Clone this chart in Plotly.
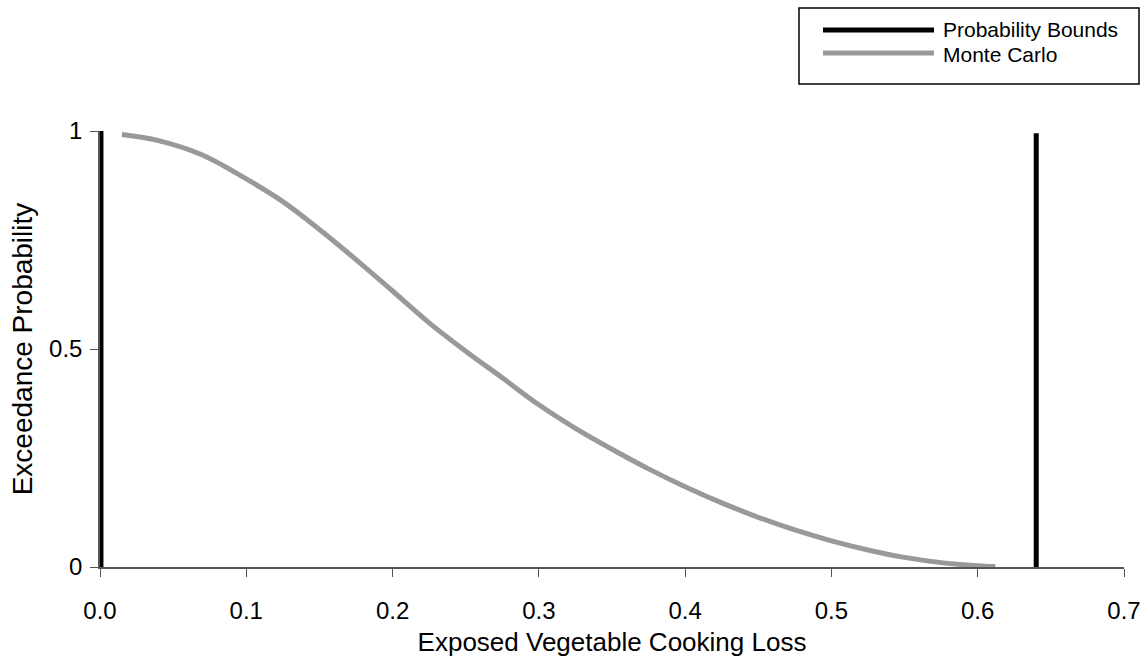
import plotly.graph_objects as go

# Monte Carlo exceedance curve
mc_x = [0.015, 0.040, 0.070, 0.100, 0.125, 0.150, 0.175, 0.200, 0.225, 0.250,
        0.275, 0.300, 0.325, 0.350, 0.375, 0.400, 0.425, 0.450, 0.475, 0.500,
        0.525, 0.550, 0.575, 0.600, 0.612]
mc_y = [0.992, 0.978, 0.945, 0.890, 0.838, 0.774, 0.705, 0.633, 0.560, 0.495,
        0.434, 0.372, 0.318, 0.270, 0.225, 0.184, 0.147, 0.114, 0.085, 0.060,
        0.039, 0.022, 0.010, 0.003, 0.001]

# Probability bounds (left and right vertical edges of the p-box)
left_bound_x = [0.001, 0.001]
left_bound_y = [0.0, 1.0]
right_bound_x = [0.640, 0.640]
right_bound_y = [0.0, 0.995]

x_ticks = [0.0, 0.1, 0.2, 0.3, 0.4, 0.5, 0.6, 0.7]
x_tick_labels = ["0.0", "0.1", "0.2", "0.3", "0.4", "0.5", "0.6", "0.7"]
y_ticks = [0, 0.5, 1]
y_tick_labels = ["0", "0.5", "1"]

legend_names = ["Probability Bounds", "Monte Carlo"]

W, H = 1147, 660
L, R, T, B = 100, 23, 131, 93
FONT = "Liberation Sans, Arial, sans-serif"
BOUND_COLOR = "#000000"
MC_COLOR = "#999999"

fig = go.Figure()
fig.add_trace(go.Scatter(x=mc_x, y=mc_y, mode="lines", line=dict(color=MC_COLOR, width=5, shape="spline"),
                         name=legend_names[1], showlegend=False))
fig.add_trace(go.Scatter(x=left_bound_x, y=left_bound_y, mode="lines", line=dict(color=BOUND_COLOR, width=4),
                         name=legend_names[0], showlegend=False))
fig.add_trace(go.Scatter(x=right_bound_x, y=right_bound_y, mode="lines", line=dict(color=BOUND_COLOR, width=5),
                         name=legend_names[0], showlegend=False))


def px_x(px):
    return (px - L) / (W - L - R)


def px_y(py):
    return (H - B - py) / (H - T - B)


# Boxed legend with long line samples
shapes = [
    dict(type="rect", xref="paper", yref="paper", x0=px_x(799), x1=px_x(1139), y0=px_y(84), y1=px_y(8),
         line=dict(color="#000000", width=1.5), fillcolor="white"),
    dict(type="line", xref="paper", yref="paper", x0=px_x(823), x1=px_x(934), y0=px_y(30), y1=px_y(30),
         line=dict(color=BOUND_COLOR, width=5)),
    dict(type="line", xref="paper", yref="paper", x0=px_x(823), x1=px_x(934), y0=px_y(53), y1=px_y(53),
         line=dict(color=MC_COLOR, width=5)),
]
annotations = [
    dict(text=legend_names[0], xref="paper", yref="paper", x=px_x(941), y=px_y(30), xanchor="left",
         yanchor="middle", showarrow=False, font=dict(family=FONT, size=21, color="#000")),
    dict(text=legend_names[1], xref="paper", yref="paper", x=px_x(941), y=px_y(55), xanchor="left",
         yanchor="middle", showarrow=False, font=dict(family=FONT, size=21, color="#000")),
]

fig.update_layout(
    width=W, height=H,
    margin=dict(l=L, r=R, t=T, b=B),
    plot_bgcolor="white", paper_bgcolor="white",
    font=dict(family=FONT, size=24, color="#000"),
    shapes=shapes, annotations=annotations,
    xaxis=dict(range=[0, 0.7], tickvals=x_ticks, ticktext=x_tick_labels, showgrid=False, zeroline=False,
               showline=True, linecolor="#555", linewidth=1.5, ticks="outside", ticklen=8, tickcolor="#555",
               tickfont=dict(size=24), ticklabelstandoff=13, automargin=False,
               title=dict(text="Exposed Vegetable Cooking Loss", font=dict(size=26), standoff=10)),
    yaxis=dict(range=[0, 1], tickvals=y_ticks, ticktext=y_tick_labels, showgrid=False, zeroline=False,
               showline=True, linecolor="#555", linewidth=1.5, ticks="outside", ticklen=8, tickcolor="#555",
               tickfont=dict(size=24), ticklabelstandoff=3, automargin=False,
               title=dict(text="Exceedance Probability", font=dict(size=28), standoff=8)),
)

fig.write_html("out.html")
